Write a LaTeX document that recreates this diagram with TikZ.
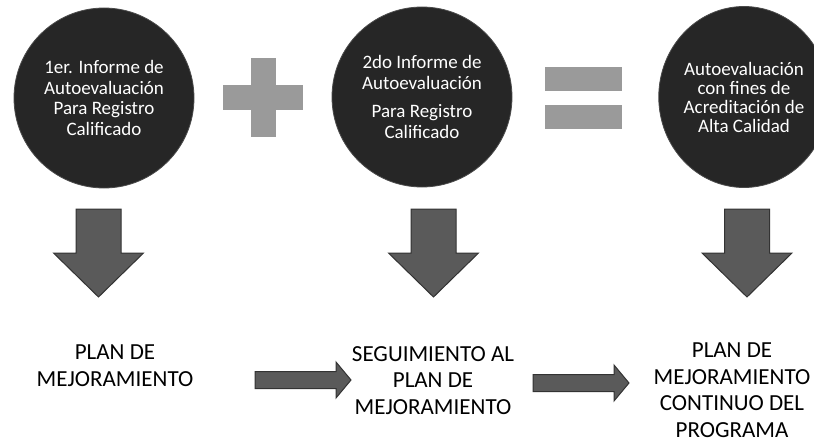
\documentclass[tikz,border=0pt]{standalone}
\usepackage{fontspec}
\setmainfont{Carlito}
\usetikzlibrary{shapes.geometric}
\definecolor{discgray}{HTML}{262626}
\definecolor{ringgray}{HTML}{4A4A4A}
\definecolor{symgray}{HTML}{9A9A9A}
\definecolor{arrowgray}{HTML}{5A5A5A}
\definecolor{arrowedge}{HTML}{333333}
\begin{document}
\begin{tikzpicture}[x=1pt,y=-1pt,
  disc/.style={circle, fill=discgray, draw=ringgray, line width=0.8pt,
    minimum size=180pt, inner sep=0pt, text=white, align=center,
    font=\fontsize{19}{20.5}\selectfont},
  symbar/.style={fill=symgray, draw=none},
  arr/.style={fill=arrowgray, draw=arrowedge, line width=1pt, line join=miter},
  lbl/.style={align=center, anchor=base, inner sep=0pt,
    font=\fontsize{23}{26.5}\selectfont, text=black},
  dnarrow/.pic={\draw[arr] (-22.5,0) -- (22.5,0) -- (22.5,44) -- (45,44) -- (0,88)
      -- (-45,44) -- (-22.5,44) -- cycle;},
  rtarrow/.pic={\draw[arr] (0,-8.5) -- (81,-8.5) -- (81,-18) -- (96,0) -- (81,18)
      -- (81,8.5) -- (0,8.5) -- cycle;}]
\useasboundingbox (0,0) rectangle (814,444);
\fill[white] (0,0) rectangle (814,444);
% discs
\node[disc] (c1) at (104,98) {1er. Informe de\\Autoevaluación\\Para Registro\\Calificado};
\node[disc] (c2) at (422,97) {2do Informe de\\Autoevaluación\\[8pt]Para Registro\\Calificado};
\node[disc, ellipse, minimum width=142pt, minimum height=181pt,
  font=\fontsize{19}{19}\selectfont] (c3) at (744,97)
  {Autoevaluación\\con fines de\\Acreditación de\\Alta Calidad};
% plus
\fill[symbar] (223,85) rectangle (303,110);
\fill[symbar] (250.5,58) rectangle (275.5,137);
% equals
\fill[symbar] (545,67) rectangle (622,91);
\fill[symbar] (545,105) rectangle (622,129);
% down arrows
\pic at (98.5,209) {dnarrow};
\pic at (433.5,209) {dnarrow};
\pic at (747,209) {dnarrow};
% labels (anchor = baseline of last line)
\node[lbl] (p1) at (115,386) {PLAN DE\\MEJORAMIENTO};
\node[lbl] (p2) at (433,414) {SEGUIMIENTO AL\\PLAN DE\\MEJORAMIENTO};
\node[lbl] (p3) at (732,437) {PLAN DE\\MEJORAMIENTO\\CONTINUO DEL\\PROGRAMA};
% right arrows
\pic at (255,380) {rtarrow};
\pic at (533,383) {rtarrow};
\end{tikzpicture}
\end{document}
